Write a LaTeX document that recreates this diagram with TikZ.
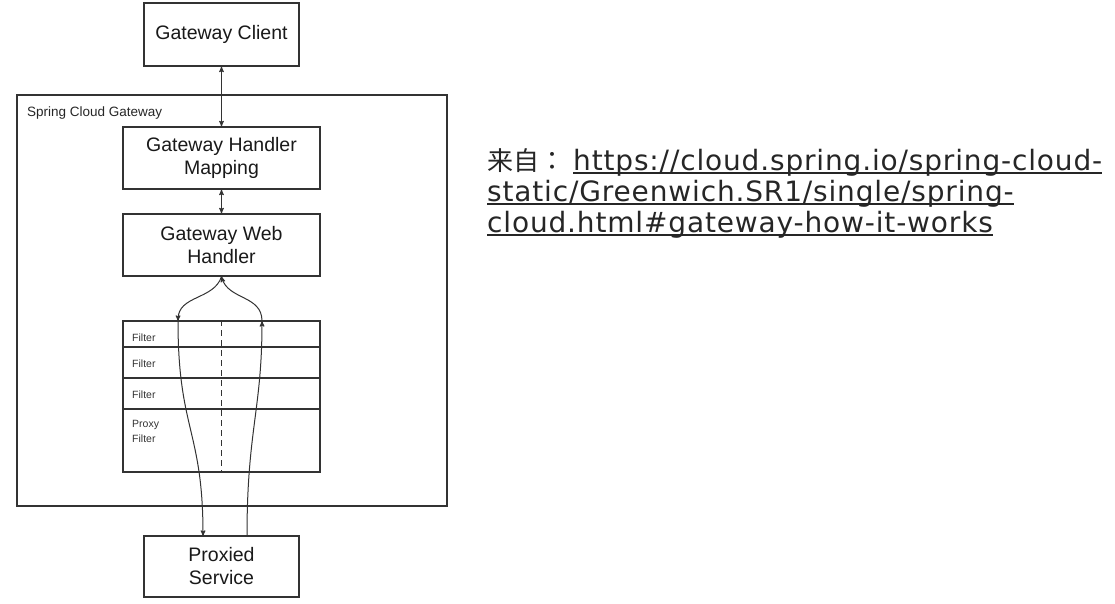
\documentclass[tikz,border=0pt]{standalone}
\usepackage{fontspec}
\setmainfont{Liberation Sans}
\newfontfamily\cjk{Noto Sans CJK SC}
\newfontfamily\cjkpunct{Noto Sans CJK TC}
\newfontfamily\linkfont[LetterSpace=3]{DejaVu Sans}
\newcommand\ulin[1]{\setbox0\hbox{#1}\rlap{\rule[-3.5pt]{\wd0}{1.8pt}}\box0}
\usetikzlibrary{arrows}
\tikzset{%
 >=stealth',
 box/.style={draw=black!80, line width=1.1pt, align=center, inner sep=0pt, text=black!90,
   font=\fontsize{19.5}{23}\selectfont},
 row/.style={draw=black!80, line width=1.1pt, minimum width=197pt, inner sep=0pt},
 flabel/.style={font=\fontsize{10.5}{15}\selectfont, text=black!80, align=left, inner sep=0pt},
 flow/.style={line width=1pt, draw=black!80}
}
\usetikzlibrary{positioning}

\begin{document}
\begin{tikzpicture}[x=1pt, y=-1pt]
 \useasboundingbox (0,0) rectangle (1115,604);
 % outer frame
 \node [draw=black!80, line width=1.1pt, minimum width=430pt, minimum height=411pt] (scg) at (232,300.5) {};
 \node [anchor=west, inner sep=0pt, text=black!85, font=\fontsize{13.5}{15}\selectfont] (scglabel) at (27,113) {Spring Cloud Gateway};

 \node [box, minimum width=155pt, minimum height=63pt] (client) at (221.5,34.5) {Gateway Client};
 \node [box, minimum width=197pt, minimum height=62pt] (mapping) at (221.5,158) {Gateway Handler\\Mapping};
 \node [box, minimum width=197pt, minimum height=62pt] (web) at (221.5,245) {Gateway Web\\Handler};
 \node [box, minimum width=155pt, minimum height=61pt] (proxied) at (221.5,566.5) {Proxied\\Service};

 % filter chain
 \node [row, minimum height=26pt] (f1) at (221.5,334) {};
 \node [row, minimum height=31pt] (f2) at (221.5,362.5) {};
 \node [row, minimum height=31pt] (f3) at (221.5,393.5) {};
 \node [row, minimum height=63pt] (fp) at (221.5,440.5) {};
 \node [flabel, anchor=west] (l1) at (132,338) {Filter};
 \node [flabel, anchor=west] (l2) at (132,364) {Filter};
 \node [flabel, anchor=west] (l3) at (132,395) {Filter};
 \node [flabel, anchor=north west] (lp) at (132,420) {Proxy\\Filter};
 \draw [flow, dash pattern=on 6pt off 4pt] (f1.north) -- (fp.south);

 \draw [flow, <->] (client.south) -- (mapping.north);
 \draw [flow, <->] (mapping.south) -- (web.north);

 \coordinate (lin) at (178,321);
 \coordinate (rin) at (262,321);
 \coordinate (lout) at (203,536);
 \coordinate (rout) at (247,536);
 \draw [flow, ->] (web.south) .. controls (214,300) and (178,295) .. (lin);
 \draw [flow, ->] (lin) .. controls (178,430) and (203,430) .. (lout);
 \draw [flow, ->] (rout) .. controls (247,430) and (262,410) .. (rin);
 \draw [flow, ->] (rin) .. controls (262,295) and (228,300) .. (web.south);

 % source note
 \node [anchor=north west, align=left, inner sep=0pt, text=black!85,
   font=\linkfont\fontsize{28}{31}\selectfont] (src) at (487,148)
   {{\cjk\fontsize{26}{31}\selectfont 来自{\cjkpunct ：}}\hspace{8pt}\ulin{https://cloud.spring.io/spring-cloud-}\\
    \ulin{static/Greenwich.SR1/single/spring-}\\
    \ulin{cloud.html\#gateway-how-it-works}};
\end{tikzpicture}
\end{document}
